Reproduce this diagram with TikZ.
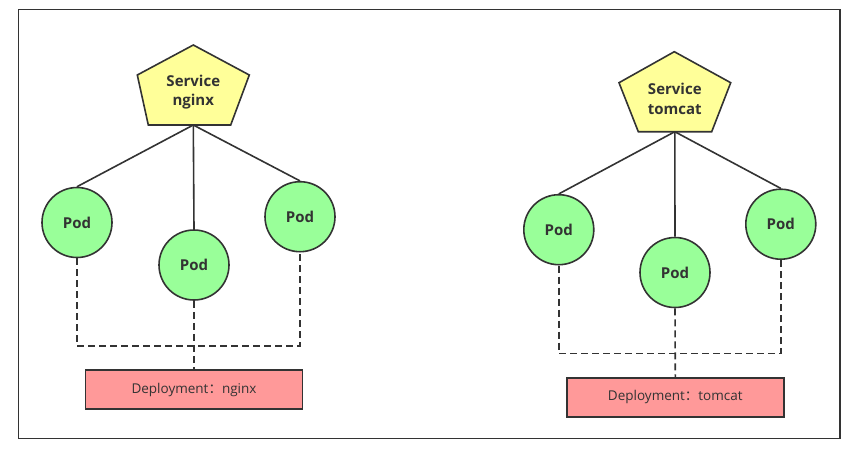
\documentclass[tikz,border=0pt]{standalone}
\usepackage{fontspec}
\setmainfont{Open Sans}
\newfontfamily\cjk{Noto Sans CJK SC}
\definecolor{ln}{HTML}{333333}
\definecolor{svcfill}{HTML}{FFFF99}
\definecolor{podfill}{HTML}{99FF99}
\definecolor{depfill}{HTML}{FF9999}
\tikzset{
  edge/.style={draw=ln, line width=1.6pt},
  dashedge/.style={draw=ln, line width=1.6pt, dash pattern=on 7pt off 4pt},
  svcshape/.style={draw=ln, fill=svcfill, line width=1.6pt, line join=miter},
  svctext/.style={text=ln, font=\fontsize{15}{19.5}\selectfont\bfseries, align=center, inner sep=0pt},
  podnode/.style={circle, draw=ln, fill=podfill, line width=1.6pt, minimum size=70pt, inner sep=0pt, text=ln, font=\fontsize{15}{17}\selectfont\bfseries},
  depnode/.style={rectangle, draw=ln, fill=depfill, line width=1.6pt, minimum width=217pt, minimum height=39pt, inner sep=0pt, text=ln, font=\fontsize{13.5}{16}\selectfont},
}
\begin{document}
\begin{tikzpicture}[x=1pt,y=-1pt]
\useasboundingbox (0,0) rectangle (856,451);
\draw[ln, line width=1.6pt] (18.5,9.5) rectangle (840,438.5);

% ---------- left group ----------
\draw[svcshape] (193.3,45) -- (249.3,75) -- (230.7,125) -- (148.3,125) -- (137.3,75) -- cycle;
\node[svctext] (svcL) at (193.3,92) {Service\\nginx};
\coordinate (svcLb) at (193.3,125);
\node[podnode] (podL1) at (77,222.5) {Pod};
\node[podnode] (podL2) at (194,265) {Pod};
\node[podnode] (podL3) at (300,216.7) {Pod};
\draw[edge] (svcLb) -- (podL1.north);
\draw[edge] (svcLb) -- (podL2.north);
\draw[edge] (svcLb) -- (podL3.north);
\node[depnode] (depL) at (194,389.7) {Deployment{\cjk ：}nginx};
\coordinate (barL) at (194,346);
\draw[dashedge] (podL1.south) |- (barL) -| (podL3.south);
\draw[dashedge] (podL2.south) -- (depL.north);

% ---------- right group ----------
\draw[svcshape] (674.3,51.7) -- (730.7,82.7) -- (711.7,131.7) -- (638.3,131.7) -- (619,82.7) -- cycle;
\node[svctext] (svcR) at (674.8,99) {Service\\tomcat};
\coordinate (svcRb) at (674.8,131.7);
\node[podnode] (podR1) at (558.8,229.7) {Pod};
\node[podnode] (podR2) at (675,272.5) {Pod};
\node[podnode] (podR3) at (780.8,224.2) {Pod};
\draw[edge] (svcRb) -- (podR1.north);
\draw[edge] (svcRb) -- (podR2.north);
\draw[edge] (svcRb) -- (podR3.north);
\node[depnode] (depR) at (675.3,397.2) {Deployment{\cjk ：}tomcat};
\coordinate (barR) at (675,353.3);
\draw[dashedge] (podR1.south) |- (barR) -| (podR3.south);
\draw[dashedge] (podR2.south) -- (depR.north);
\end{tikzpicture}
\end{document}
